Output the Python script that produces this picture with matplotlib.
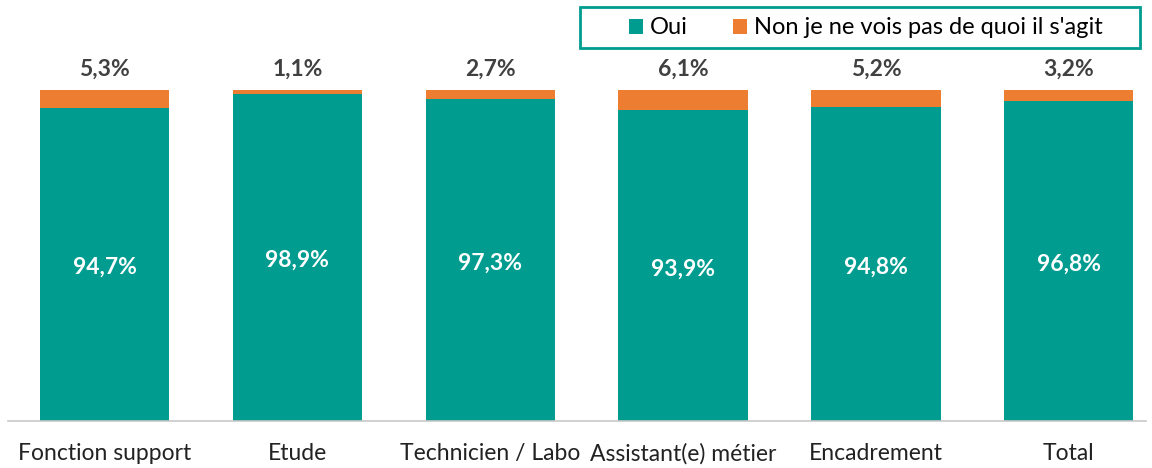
import numpy as np
import matplotlib.pyplot as plt
from matplotlib.patches import Rectangle

plt.rcParams['font.family'] = ['Lato', 'DejaVu Sans']

# data
categories = ["Fonction support", "Etude", "Technicien / Labo", "Assistant(e) métier", "Encadrement", "Total"]
oui = [94.7, 98.9, 97.3, 93.9, 94.8, 96.8]
non = [5.3, 1.1, 2.7, 6.1, 5.2, 3.2]

teal = "#009C8F"
orange = "#ED7D31"

fig = plt.figure(figsize=(11.52, 4.68), dpi=100)
ax = fig.add_axes([8/1152, 47/468, 1138/1152, 331/468])

x = np.arange(len(categories))
w = 0.67
ax.bar(x, oui, w, color=teal, label="Oui")
ax.bar(x, non, w, bottom=oui, color=orange, label="Non je ne vois pas de quoi il s'agit")

for i in range(len(x)):
    ax.text(x[i], oui[i] / 2 - 1, f"{oui[i]:.1f}%".replace(".", ","), ha="center", va="center",
            color="white", fontsize=16.5, fontweight="bold")
    ax.text(x[i], 100 + 3, f"{non[i]:.1f}%".replace(".", ","), ha="center", va="bottom",
            color="#404040", fontsize=16.5, fontweight="bold")

ax.set_xlim(-0.5, 5.40)
ax.set_ylim(0, 100)
ax.set_xticks(x)
ax.set_xticklabels(categories, fontsize=16.5, color="#222222")
ax.tick_params(axis="x", length=0, pad=16)
ax.set_yticks([])
for s in ["top", "right", "left"]:
    ax.spines[s].set_visible(False)
ax.spines["bottom"].set_color("#C8C8C8")
ax.spines["bottom"].set_linewidth(1.2)

# legend with a wider box around it
fig.legend(loc="center", bbox_to_anchor=(866/1152, 1 - 28/468), ncol=2,
           fontsize=17, frameon=False, handlelength=0.6, handleheight=0.6,
           handletextpad=0.3, columnspacing=1.9, borderpad=0, borderaxespad=0)
fig.patches.append(Rectangle((580/1152, 1 - 48/468), 560/1152, 41/468,
                             transform=fig.transFigure, fill=False,
                             edgecolor=teal, linewidth=2))

fig.savefig("out.png", dpi=100)
